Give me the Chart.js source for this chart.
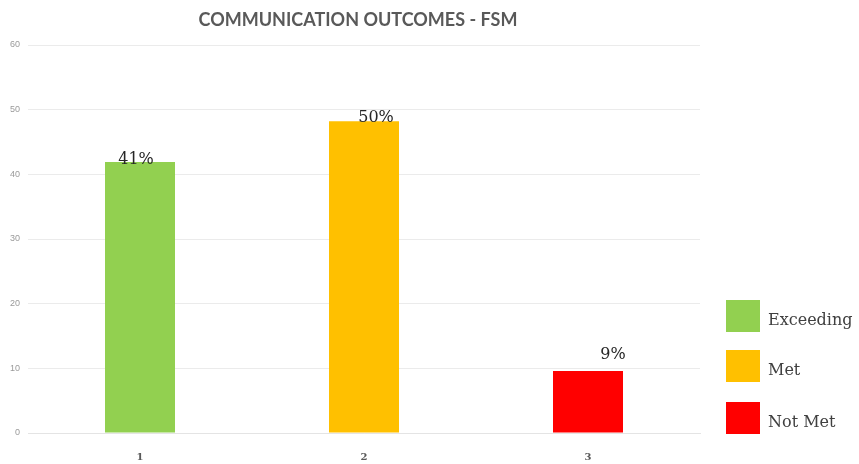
<!DOCTYPE html>
<html>
<head>
<meta charset="utf-8">
<script src="https://cdn.jsdelivr.net/npm/chart.js@4"></script>
<style>
  body { margin: 0; background: #fff; }
  #wrap { width: 859px; height: 464px; }
</style>
</head>
<body>
<div id="wrap"><canvas id="chart" width="859" height="464"></canvas></div>
<script>
// chart data
const categories = ['1', '2', '3'];
const values = [41.9, 48.2, 9.6];
const valueLabels = ['41%', '50%', '9%'];
const legendNames = ['Exceeding', 'Met', 'Not Met'];
const barColors = ['#92d050', '#ffc000', '#ff0000'];
const yTicks = [0, 10, 20, 30, 40, 50, 60];

// label nudges, the original labels were placed by hand
const labelShift = [[-4, 6], [12, 5], [25, -8]];

const titleText = 'COMMUNICATION OUTCOMES - FSM';

// title, bar labels and legend are drawn here
const extras = {
    id: 'extras',
    afterDraw(chart) {
        const ctx = chart.ctx;
        const area = chart.chartArea;
        ctx.save();

        // title
        ctx.fillStyle = '#595959';
        ctx.font = 'bold 18px Lato';
        ctx.textAlign = 'center';
        ctx.textBaseline = 'middle';
        ctx.fillText(titleText, 358, 20);

        // value labels above bars
        const meta = chart.getDatasetMeta(0);
        ctx.fillStyle = '#262626';
        ctx.font = '16px "DejaVu Serif"';
        ctx.textBaseline = 'bottom';
        meta.data.forEach((bar, i) => {
            ctx.fillText(valueLabels[i], bar.x + labelShift[i][0], bar.y + labelShift[i][1]);
        });

        // legend on the right, bottom aligned
        const boxX = area.right + 26;
        const rowTops = [300, 350, 402];
        ctx.textAlign = 'left';
        ctx.textBaseline = 'middle';
        ctx.font = '16px "DejaVu Serif"';
        legendNames.forEach((name, i) => {
            ctx.fillStyle = barColors[i];
            ctx.fillRect(boxX, rowTops[i], 34, 32);
            ctx.fillStyle = '#404040';
            ctx.fillText(name, boxX + 42, rowTops[i] + 21);
        });
        ctx.restore();
    }
};

new Chart(document.getElementById('chart'), {
    type: 'bar',
    data: {
        labels: categories,
        datasets: [{
            data: values,
            backgroundColor: barColors,
            categoryPercentage: 1,
            barPercentage: 0.3125
        }]
    },
    options: {
        responsive: false,
        animation: false,
        layout: {
            padding: { left: 0, right: 159, top: 45, bottom: 0 }
        },
        plugins: {
            legend: { display: false },
            title: { display: false },
            tooltip: { enabled: false }
        },
        scales: {
            x: {
                grid: { display: false },
                border: { color: '#e4e4e4', width: 1 },
                ticks: {
                    color: '#595959',
                    padding: 10,
                    font: { family: 'DejaVu Serif', size: 10, weight: 'bold' }
                },
                afterFit: (scale) => { scale.height = 31; }
            },
            y: {
                min: 0,
                max: 60,
                afterBuildTicks: (scale) => {
                    scale.ticks = yTicks.map(v => ({ value: v }));
                },
                grid: { color: '#ebebeb', drawTicks: false },
                border: { display: false },
                ticks: {
                    color: '#9a9a9a',
                    padding: 8,
                    font: { family: 'Liberation Sans', size: 9 }
                },
                afterFit: (scale) => { scale.width = 28; }
            }
        }
    },
    plugins: [extras]
});
</script>
</body>
</html>
